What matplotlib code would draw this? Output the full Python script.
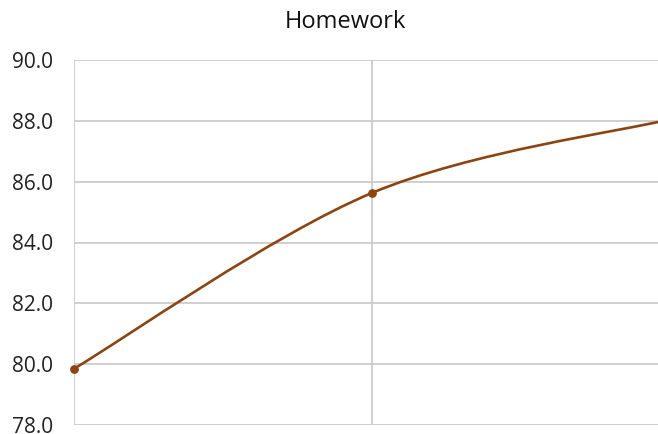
import numpy as np
import matplotlib
matplotlib.use("Agg")
import matplotlib.pyplot as plt
from matplotlib.path import Path
from matplotlib.patches import PathPatch

plt.rcParams['font.family'] = ['Open Sans', 'DejaVu Sans']

# data
terms = ["T1", "T2", "T3"]
scores = [79.85, 85.63, 88.05]
y_ticks = [78, 80, 82, 84, 86, 88, 90]

line_color = "#8B4513"
grid_color = "#cccccc"

fig = plt.figure(figsize=(6.58, 4.34), dpi=100)
# plot area runs past the right edge of the picture, as in the reference
ax = fig.add_axes([74 / 658, 9 / 434, 596 / 658, 365 / 434])

x = np.arange(len(scores), dtype=float)
y = np.array(scores, dtype=float)

# smooth curve through the points (cardinal spline as cubic Bezier)
s = 1 / 6
px = np.concatenate([[x[0]], x, [x[-1]]])
py = np.concatenate([[y[0]], y, [y[-1]]])
verts = [(x[0], y[0])]
codes = [Path.MOVETO]
for i in range(1, len(px) - 2):
    c1 = (px[i] + (px[i + 1] - px[i - 1]) * s, py[i] + (py[i + 1] - py[i - 1]) * s)
    c2 = (px[i + 1] - (px[i + 2] - px[i]) * s, py[i + 1] - (py[i + 2] - py[i]) * s)
    verts += [c1, c2, (px[i + 1], py[i + 1])]
    codes += [Path.CURVE4] * 3
ax.add_patch(PathPatch(Path(verts, codes), facecolor="none", edgecolor=line_color,
                       lw=1.9, zorder=3, clip_on=False))
ax.scatter(x, y, s=28, color=line_color, zorder=4, clip_on=False)

ax.set_xlim(0, len(scores) - 1)
ax.set_ylim(y_ticks[0], y_ticks[-1])
ax.set_xticks(x)
ax.set_xticklabels([])
ax.set_yticks(y_ticks)
ax.set_yticklabels([f"{v:.1f}" for v in y_ticks], fontsize=15, color="#222222")
ax.tick_params(length=0, pad=15)
ax.grid(True, color=grid_color, lw=1.3)
for sp in ax.spines.values():
    sp.set_visible(False)
ax.set_axisbelow(True)

fig.text(345 / 658, 1 - 22 / 434, "Homework", ha="center", va="center",
         fontsize=17, color="#111111")

fig.savefig("out.png", dpi=100)
